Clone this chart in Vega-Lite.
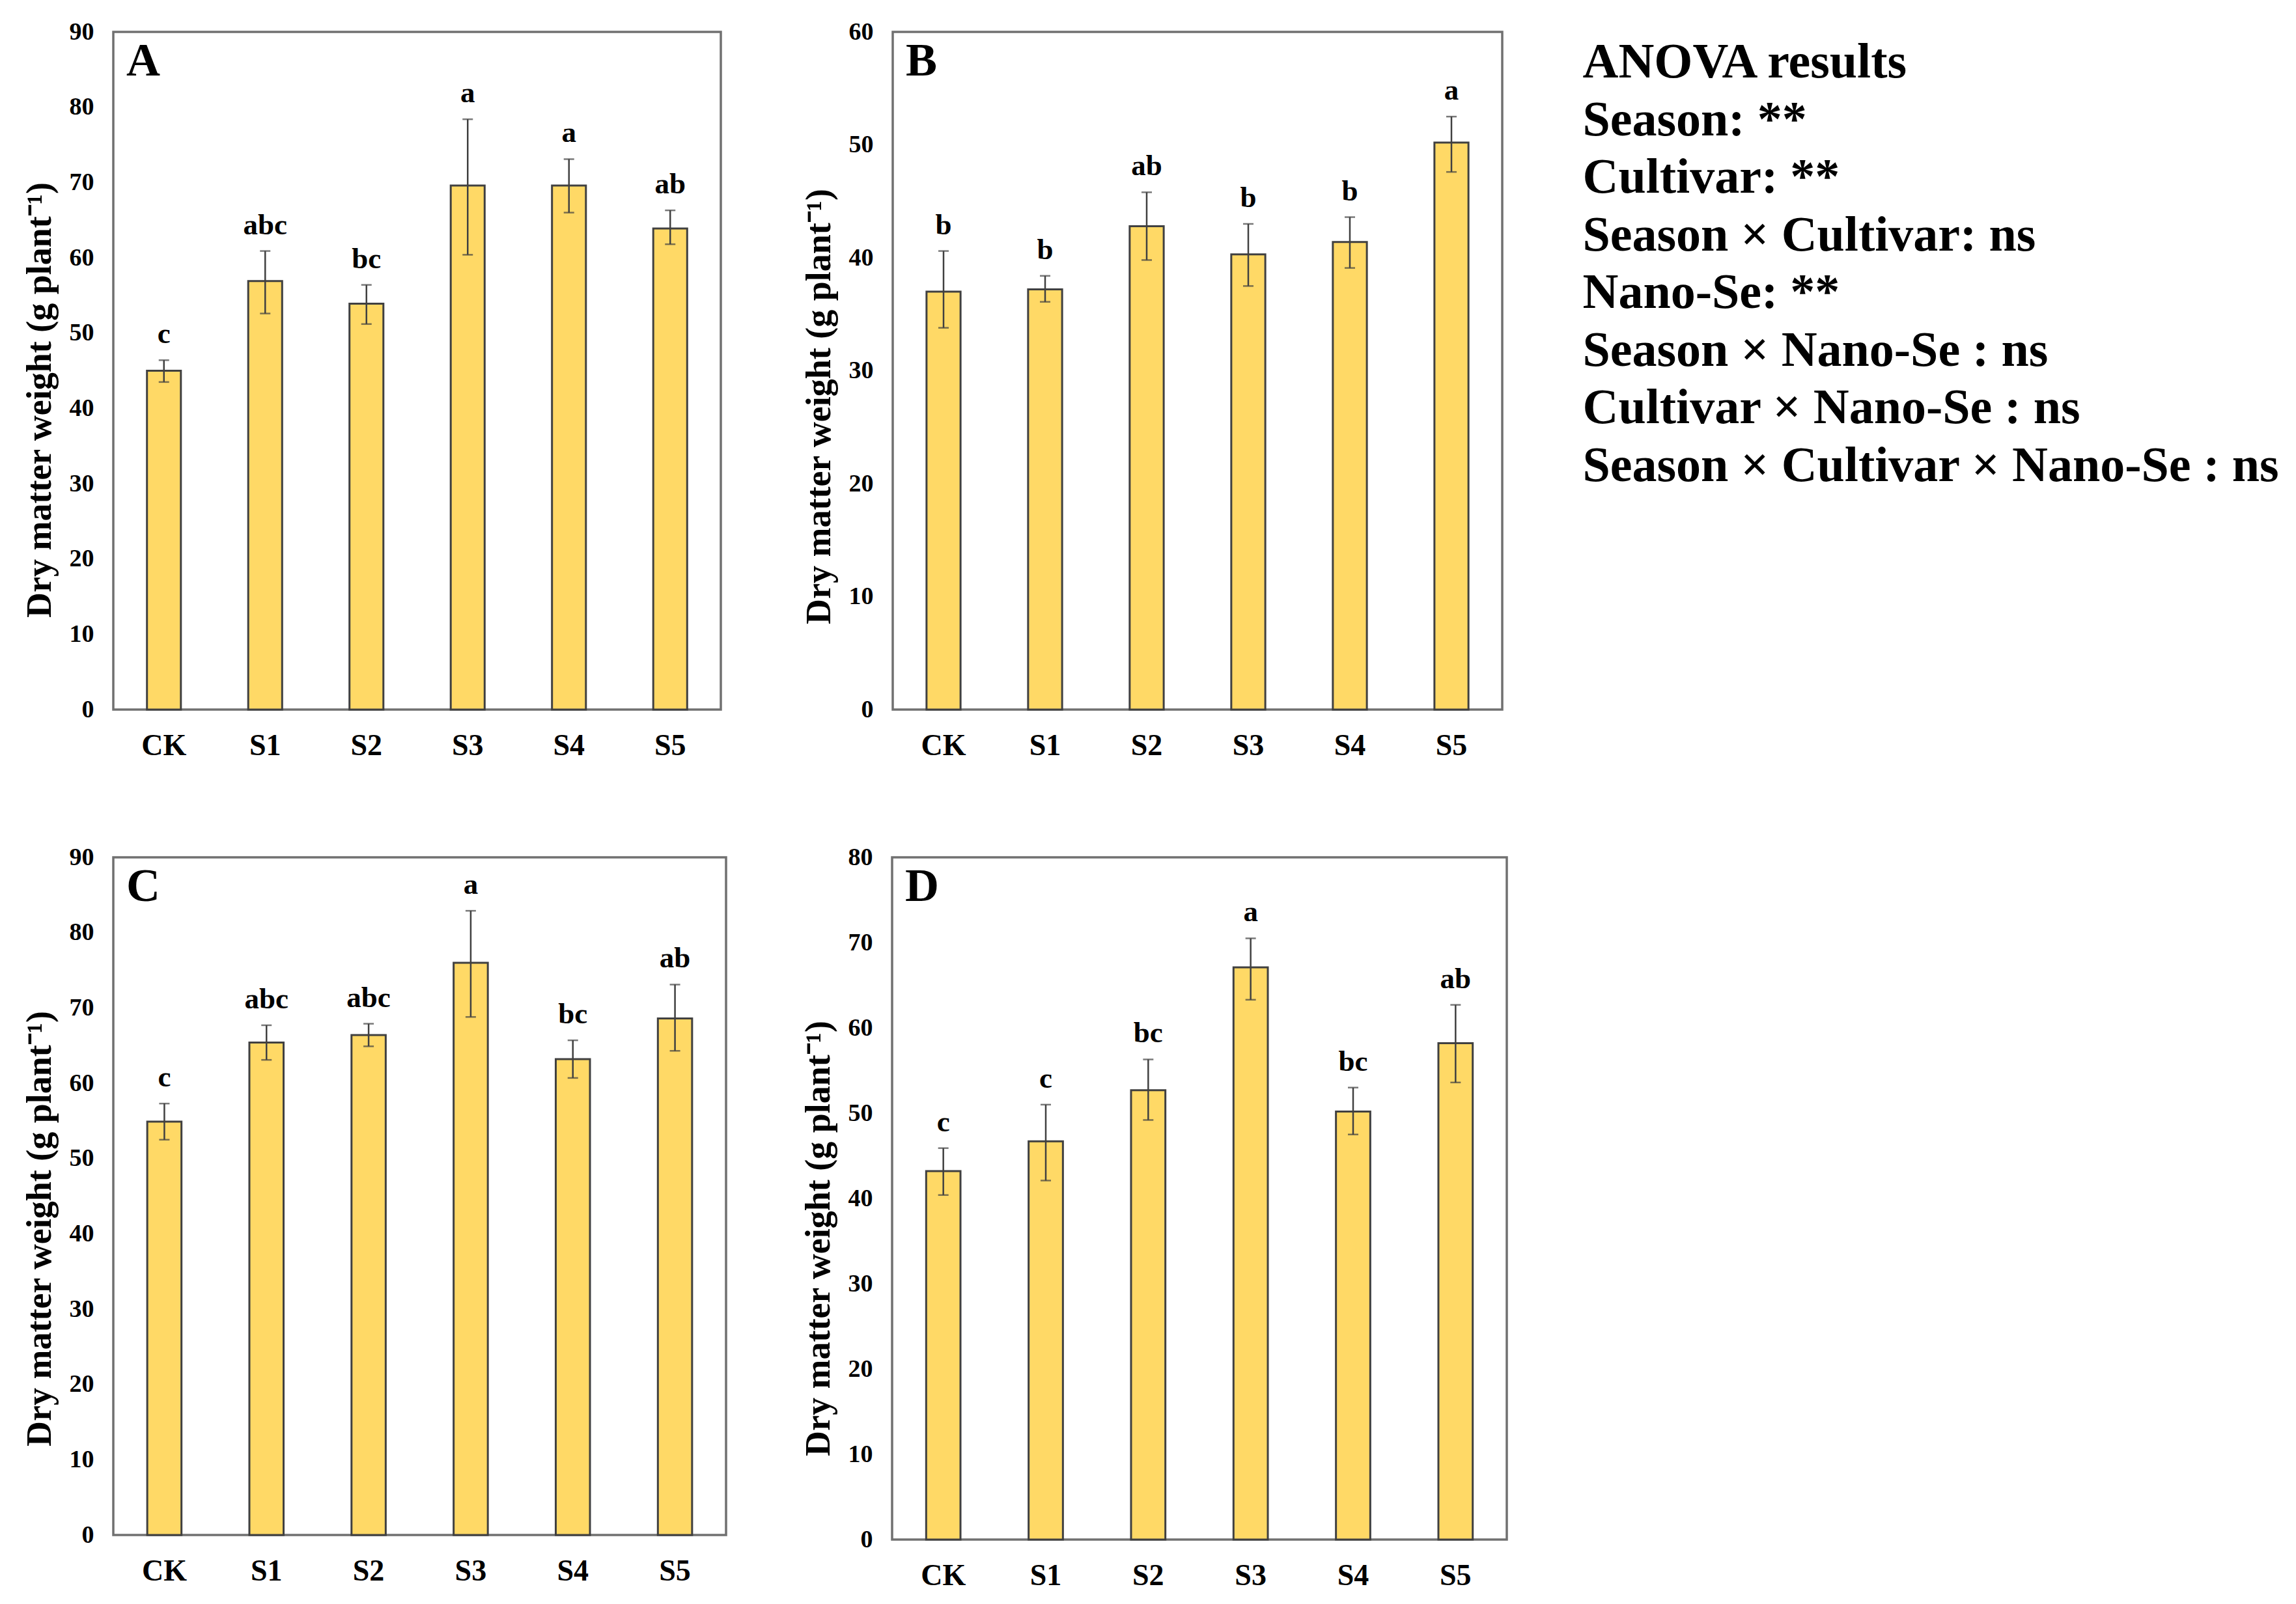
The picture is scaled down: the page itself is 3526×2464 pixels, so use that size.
{
  "$schema": "https://vega.github.io/schema/vega-lite/v6.json",
  "padding": {"left": 32, "top": 28, "right": 0, "bottom": 0},
  "background": "white",
  "datasets": {
    "bars": [
      {"panel": "A", "trt": "CK", "mean": 45.0, "lo": 43.5, "hi": 46.4, "sig": "c"},
      {"panel": "A", "trt": "S1", "mean": 56.9, "lo": 52.6, "hi": 60.9, "sig": "abc"},
      {"panel": "A", "trt": "S2", "mean": 53.9, "lo": 51.2, "hi": 56.4, "sig": "bc"},
      {"panel": "A", "trt": "S3", "mean": 69.6, "lo": 60.4, "hi": 78.4, "sig": "a"},
      {"panel": "A", "trt": "S4", "mean": 69.6, "lo": 66.0, "hi": 73.1, "sig": "a"},
      {"panel": "A", "trt": "S5", "mean": 63.9, "lo": 61.8, "hi": 66.3, "sig": "ab"},
      {"panel": "B", "trt": "CK", "mean": 37.0, "lo": 33.8, "hi": 40.6, "sig": "b"},
      {"panel": "B", "trt": "S1", "mean": 37.2, "lo": 36.1, "hi": 38.4, "sig": "b"},
      {"panel": "B", "trt": "S2", "mean": 42.8, "lo": 39.8, "hi": 45.8, "sig": "ab"},
      {"panel": "B", "trt": "S3", "mean": 40.3, "lo": 37.5, "hi": 43.0, "sig": "b"},
      {"panel": "B", "trt": "S4", "mean": 41.4, "lo": 39.1, "hi": 43.6, "sig": "b"},
      {"panel": "B", "trt": "S5", "mean": 50.2, "lo": 47.6, "hi": 52.5, "sig": "a"},
      {"panel": "C", "trt": "CK", "mean": 54.9, "lo": 52.5, "hi": 57.3, "sig": "c"},
      {"panel": "C", "trt": "S1", "mean": 65.4, "lo": 63.1, "hi": 67.7, "sig": "abc"},
      {"panel": "C", "trt": "S2", "mean": 66.4, "lo": 64.9, "hi": 67.9, "sig": "abc"},
      {"panel": "C", "trt": "S3", "mean": 76.0, "lo": 68.8, "hi": 82.9, "sig": "a"},
      {"panel": "C", "trt": "S4", "mean": 63.2, "lo": 60.7, "hi": 65.7, "sig": "bc"},
      {"panel": "C", "trt": "S5", "mean": 68.6, "lo": 64.3, "hi": 73.1, "sig": "ab"},
      {"panel": "D", "trt": "CK", "mean": 43.2, "lo": 40.4, "hi": 45.9, "sig": "c"},
      {"panel": "D", "trt": "S1", "mean": 46.7, "lo": 42.1, "hi": 51.0, "sig": "c"},
      {"panel": "D", "trt": "S2", "mean": 52.7, "lo": 49.2, "hi": 56.3, "sig": "bc"},
      {"panel": "D", "trt": "S3", "mean": 67.1, "lo": 63.3, "hi": 70.5, "sig": "a"},
      {"panel": "D", "trt": "S4", "mean": 50.2, "lo": 47.5, "hi": 53.0, "sig": "bc"},
      {"panel": "D", "trt": "S5", "mean": 58.2, "lo": 53.6, "hi": 62.7, "sig": "ab"}
    ],
    "anova": [
      {"i": 0, "line": "ANOVA results"},
      {"i": 1, "line": "Season: **"},
      {"i": 2, "line": "Cultivar: **"},
      {"i": 3, "line": "Season × Cultivar: ns"},
      {"i": 4, "line": "Nano-Se: **"},
      {"i": 5, "line": "Season × Nano-Se : ns"},
      {"i": 6, "line": "Cultivar × Nano-Se : ns"},
      {"i": 7, "line": "Season × Cultivar × Nano-Se : ns"}
    ]
  },
  "spacing": 126,
  "vconcat": [
    {
      "spacing": 121,
      "hconcat": [
        {
          "spacing": 120,
          "hconcat": [
            {
              "width": 933, "height": 1041,
              "data": {"name": "bars"},
              "title": {"text": "A", "offset": -101, "dx": 20},
              "transform": [{"filter": "datum.panel === 'A'"}],
              "encoding": {"x": {"field": "trt", "type": "nominal", "sort": null, "scale": {"paddingInner": 0.665, "paddingOuter": 0.3325}}},
              "layer": [
                {"mark": {"type": "bar", "fill": "#FFD966", "stroke": "#404040", "strokeWidth": 3},
                 "encoding": {"y": {"field": "mean", "type": "quantitative", "scale": {"domain": [0, 90]}, "axis": {"values": [0,10,20,30,40,50,60,70,80,90], "titleY": 565}, "title": "Dry matter weight (g plant⁻¹)"}}},
                {"mark": {"type": "errorbar", "rule": {"color": "#404040", "strokeWidth": 2.5}, "ticks": {"color": "#404040", "size": 16, "thickness": 2.5}},
                 "encoding": {"y": {"field": "lo", "type": "quantitative", "title": "Dry matter weight (g plant⁻¹)"}, "y2": {"field": "hi"}}},
                {"mark": {"type": "text", "baseline": "alphabetic", "dy": -26, "font": "Liberation Serif", "fontWeight": "bold", "fontSize": 45, "color": "#000"},
                 "encoding": {"y": {"field": "hi", "type": "quantitative", "title": "Dry matter weight (g plant⁻¹)"}, "text": {"field": "sig"}}}
              ]
            },
            {
              "width": 936, "height": 1041,
              "data": {"name": "bars"},
              "title": {"text": "B", "offset": -101, "dx": 20},
              "transform": [{"filter": "datum.panel === 'B'"}],
              "encoding": {"x": {"field": "trt", "type": "nominal", "sort": null, "scale": {"paddingInner": 0.665, "paddingOuter": 0.3325}}},
              "layer": [
                {"mark": {"type": "bar", "fill": "#FFD966", "stroke": "#404040", "strokeWidth": 3},
                 "encoding": {"y": {"field": "mean", "type": "quantitative", "scale": {"domain": [0, 60]}, "axis": {"values": [0,10,20,30,40,50,60], "titleY": 575}, "title": "Dry matter weight (g plant⁻¹)"}}},
                {"mark": {"type": "errorbar", "rule": {"color": "#404040", "strokeWidth": 2.5}, "ticks": {"color": "#404040", "size": 16, "thickness": 2.5}},
                 "encoding": {"y": {"field": "lo", "type": "quantitative", "title": "Dry matter weight (g plant⁻¹)"}, "y2": {"field": "hi"}}},
                {"mark": {"type": "text", "baseline": "alphabetic", "dy": -26, "font": "Liberation Serif", "fontWeight": "bold", "fontSize": 45, "color": "#000"},
                 "encoding": {"y": {"field": "hi", "type": "quantitative", "title": "Dry matter weight (g plant⁻¹)"}, "text": {"field": "sig"}}}
              ]
            }
          ]
        },
        {
          "width": 1, "height": 714,
          "view": {"stroke": null},
          "data": {"name": "anova"},
          "mark": {"type": "text", "align": "left", "baseline": "middle", "font": "Liberation Serif", "fontWeight": "bold", "fontSize": 76, "color": "#000"},
          "encoding": {
            "y": {"field": "i", "type": "ordinal", "axis": null, "scale": {"padding": 0.53}},
            "text": {"field": "line"}
          }
        }
      ]
    },
    {
      "spacing": 111,
      "hconcat": [
        {
          "width": 941, "height": 1041,
          "data": {"name": "bars"},
          "title": {"text": "C", "offset": -101, "dx": 20},
          "transform": [{"filter": "datum.panel === 'C'"}],
          "encoding": {"x": {"field": "trt", "type": "nominal", "sort": null, "scale": {"paddingInner": 0.665, "paddingOuter": 0.3325}}},
          "layer": [
            {"mark": {"type": "bar", "fill": "#FFD966", "stroke": "#404040", "strokeWidth": 3},
             "encoding": {"y": {"field": "mean", "type": "quantitative", "scale": {"domain": [0, 90]}, "axis": {"values": [0,10,20,30,40,50,60,70,80,90], "titleY": 570}, "title": "Dry matter weight (g plant⁻¹)"}}},
            {"mark": {"type": "errorbar", "rule": {"color": "#404040", "strokeWidth": 2.5}, "ticks": {"color": "#404040", "size": 16, "thickness": 2.5}},
             "encoding": {"y": {"field": "lo", "type": "quantitative", "title": "Dry matter weight (g plant⁻¹)"}, "y2": {"field": "hi"}}},
            {"mark": {"type": "text", "baseline": "alphabetic", "dy": -26, "font": "Liberation Serif", "fontWeight": "bold", "fontSize": 45, "color": "#000"},
             "encoding": {"y": {"field": "hi", "type": "quantitative", "title": "Dry matter weight (g plant⁻¹)"}, "text": {"field": "sig"}}}
          ]
        },
        {
          "width": 944, "height": 1048,
          "data": {"name": "bars"},
          "title": {"text": "D", "offset": -101, "dx": 20},
          "transform": [{"filter": "datum.panel === 'D'"}],
          "encoding": {"x": {"field": "trt", "type": "nominal", "sort": null, "scale": {"paddingInner": 0.665, "paddingOuter": 0.3325}}},
          "layer": [
            {"mark": {"type": "bar", "fill": "#FFD966", "stroke": "#404040", "strokeWidth": 3},
             "encoding": {"y": {"field": "mean", "type": "quantitative", "scale": {"domain": [0, 80]}, "axis": {"values": [0,10,20,30,40,50,60,70,80], "titleY": 585}, "title": "Dry matter weight (g plant⁻¹)"}}},
            {"mark": {"type": "errorbar", "rule": {"color": "#404040", "strokeWidth": 2.5}, "ticks": {"color": "#404040", "size": 16, "thickness": 2.5}},
             "encoding": {"y": {"field": "lo", "type": "quantitative", "title": "Dry matter weight (g plant⁻¹)"}, "y2": {"field": "hi"}}},
            {"mark": {"type": "text", "baseline": "alphabetic", "dy": -26, "font": "Liberation Serif", "fontWeight": "bold", "fontSize": 45, "color": "#000"},
             "encoding": {"y": {"field": "hi", "type": "quantitative", "title": "Dry matter weight (g plant⁻¹)"}, "text": {"field": "sig"}}}
          ]
        }
      ]
    }
  ],
  "config": {
    "view": {"stroke": "#707070", "strokeWidth": 3.5},
    "title": {"font": "Liberation Serif", "fontSize": 72, "fontWeight": "bold", "anchor": "start", "frame": "group", "baseline": "top", "color": "#000"},
    "axis": {"labelFont": "Liberation Serif", "labelFontWeight": "bold", "titleFont": "Liberation Serif", "titleFontWeight": "bold", "labelColor": "#000", "titleColor": "#000", "ticks": false, "domain": false, "grid": false},
    "axisX": {"labelFontSize": 46, "labelPadding": 33, "labelAngle": 0, "title": null},
    "axisY": {"labelFontSize": 38, "labelPadding": 30, "titleFontSize": 54, "titlePadding": 18}
  }
}
